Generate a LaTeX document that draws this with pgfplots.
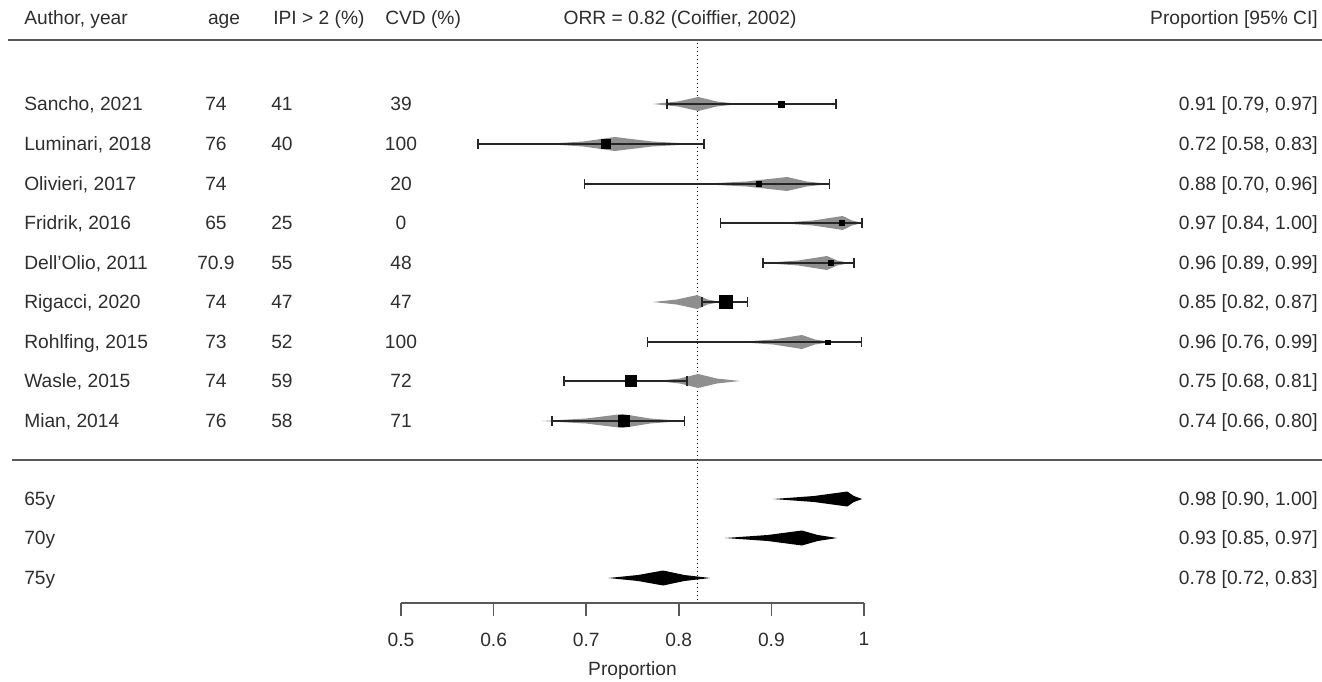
\documentclass[border=0pt]{standalone}
\usepackage{pgfplots}
\pgfplotsset{compat=1.18}
\usepackage{fontspec}
\setmainfont{Liberation Sans}

\definecolor{ink}{gray}{0.18}
\definecolor{shade}{gray}{0.56}
\definecolor{rule}{gray}{0.35}

% one picture pixel = 0.75pt; y values are 681 minus the pixel row
\newcommand{\tf}{\fontsize{14.4}{17}\selectfont}

\begin{document}
\begin{tikzpicture}[
  txt/.style={font=\tf, text=ink, inner sep=0pt, yshift=-5.1pt},
  ci/.style={black!85, line width=1.1pt, mark=none},
  sq/.style={only marks, mark=square*, mark options={draw=none, fill=black}},
]
\begin{axis}[
  scale only axis,
  width=347.25pt, height=452.25pt,
  xmin=0.5, xmax=1, ymin=78, ymax=681,
  axis x line=bottom, axis y line=none,
  x axis line style={-, rule, line width=1.1pt},
  clip=false,
  unbounded coords=jump,
  xtick={0.5,0.6,0.7,0.8,0.9,1},
  xticklabels={0.5,0.6,0.7,0.8,0.9,1},
  tick align=outside,
  major tick length=9.75pt,
  x tick style={rule, line width=1.1pt},
  xticklabel style={font=\tf, text=ink, yshift=-9pt},
  /pgf/number format/assume math mode=true,
]

% frame of the whole picture
\coordinate (BL) at (axis cs:0.06695,0);
\coordinate (TR) at (axis cs:1.4946,681);

% header and rules
\node[txt, anchor=base west] at (axis cs:0.0929,663) {Author, year};
\node[txt, anchor=base] at (axis cs:0.3089,663) {age};
\node[txt, anchor=base west] at (axis cs:0.3618,663) {IPI > 2 (\%)};
\node[txt, anchor=base west] at (axis cs:0.4827,663) {CVD (\%)};
\node[txt, anchor=base] at (axis cs:0.8013,663) {ORR = 0.82 (Coiffier, 2002)};
\node[txt, anchor=base east] at (axis cs:1.4903,663) {Proportion [95\% CI]};
\addplot[rule, line width=1.3pt] coordinates {(0.0756,641) (1.4946,641)};
\addplot[rule, line width=1.3pt] coordinates {(0.0799,221) (1.4946,221)};
\addplot[black, dotted, line width=1pt] coordinates {(0.82,638) (0.82,78)};

% study densities (grey)
\addplot[fill=shade, draw=none] coordinates {(0.772,577) (0.799,579.5) (0.821,584) (0.841,579.5) (0.866,577) (0.841,574.5) (0.821,570) (0.799,574.5)} -- cycle;
\addplot[fill=shade, draw=none] coordinates {(0.655,537) (0.697,539.5) (0.731,544) (0.771,539.5) (0.820,537) (0.771,534.5) (0.731,530) (0.697,534.5)} -- cycle;
\addplot[fill=shade, draw=none] coordinates {(0.820,497) (0.873,499.5) (0.917,504) (0.938,499.5) (0.963,497) (0.938,494.5) (0.917,490) (0.873,494.5)} -- cycle;
\addplot[fill=shade, draw=none] coordinates {(0.906,458) (0.945,460.5) (0.977,465) (0.987,460.5) (0.998,458) (0.987,455.5) (0.977,451) (0.945,455.5)} -- cycle;
\addplot[fill=shade, draw=none] coordinates {(0.891,418) (0.929,420.5) (0.960,425) (0.971,420.5) (0.985,418) (0.971,415.5) (0.960,411) (0.929,415.5)} -- cycle;
\addplot[fill=shade, draw=none] coordinates {(0.772,379) (0.798,381.5) (0.820,386) (0.831,381.5) (0.845,379) (0.831,376.5) (0.820,372) (0.798,376.5)} -- cycle;
\addplot[fill=shade, draw=none] coordinates {(0.863,339) (0.902,341.5) (0.933,346) (0.947,341.5) (0.965,339) (0.947,336.5) (0.933,332) (0.902,336.5)} -- cycle;
\addplot[fill=shade, draw=none] coordinates {(0.776,300) (0.801,302.5) (0.821,307) (0.841,302.5) (0.866,300) (0.841,297.5) (0.821,293) (0.801,297.5)} -- cycle;
\addplot[fill=shade, draw=none] coordinates {(0.652,260) (0.700,262.5) (0.739,267) (0.769,262.5) (0.805,260) (0.769,257.5) (0.739,253) (0.700,257.5)} -- cycle;

% confidence intervals
\addplot[ci] coordinates {(0.787,572) (0.787,582) (nan,nan) (0.787,577) (0.970,577) (nan,nan) (0.970,572) (0.970,582)};
\addplot[ci] coordinates {(0.583,532) (0.583,542) (nan,nan) (0.583,537) (0.827,537) (nan,nan) (0.827,532) (0.827,542)};
\addplot[ci] coordinates {(0.698,492) (0.698,502) (nan,nan) (0.698,497) (0.963,497) (nan,nan) (0.963,492) (0.963,502)};
\addplot[ci] coordinates {(0.845,453) (0.845,463) (nan,nan) (0.845,458) (0.998,458) (nan,nan) (0.998,453) (0.998,463)};
\addplot[ci] coordinates {(0.891,413) (0.891,423) (nan,nan) (0.891,418) (0.989,418) (nan,nan) (0.989,413) (0.989,423)};
\addplot[ci] coordinates {(0.825,374) (0.825,384) (nan,nan) (0.825,379) (0.874,379) (nan,nan) (0.874,374) (0.874,384)};
\addplot[ci] coordinates {(0.766,334) (0.766,344) (nan,nan) (0.766,339) (0.997,339) (nan,nan) (0.997,334) (0.997,344)};
\addplot[ci] coordinates {(0.676,295) (0.676,305) (nan,nan) (0.676,300) (0.809,300) (nan,nan) (0.809,295) (0.809,305)};
\addplot[ci] coordinates {(0.663,255) (0.663,265) (nan,nan) (0.663,260) (0.806,260) (nan,nan) (0.806,255) (0.806,265)};

% point estimates
\addplot[sq, mark size=2.25pt] coordinates {(0.911,577)};
\addplot[sq, mark size=3.3pt] coordinates {(0.721,537)};
\addplot[sq, mark size=2pt] coordinates {(0.886,497)};
\addplot[sq, mark size=1.8pt] coordinates {(0.976,458)};
\addplot[sq, mark size=2pt] coordinates {(0.964,418)};
\addplot[sq, mark size=5pt] coordinates {(0.851,379)};
\addplot[sq, mark size=1.6pt] coordinates {(0.961,339)};
\addplot[sq, mark size=4.3pt] coordinates {(0.748,300)};
\addplot[sq, mark size=4.1pt] coordinates {(0.741,260)};

% pooled predictions by age (black)
\addplot[fill=black, draw=none] coordinates {(0.902,182) (0.946,185) (0.982,189.5) (0.989,185) (0.998,182) (0.989,179) (0.982,174.5) (0.946,179)} -- cycle;
\addplot[fill=black, draw=none] coordinates {(0.850,143) (0.896,146) (0.933,150.5) (0.950,146) (0.971,143) (0.950,140) (0.933,135.5) (0.896,140)} -- cycle;
\addplot[fill=black, draw=none] coordinates {(0.724,103) (0.756,106) (0.783,110.5) (0.806,106) (0.834,103) (0.806,100) (0.783,95.5) (0.756,100)} -- cycle;

% table columns
\node[txt, anchor=base west] at (axis cs:0.0929,577) {Sancho, 2021};
\node[txt, anchor=base west] at (axis cs:0.0929,537) {Luminari, 2018};
\node[txt, anchor=base west] at (axis cs:0.0929,497) {Olivieri, 2017};
\node[txt, anchor=base west] at (axis cs:0.0929,458) {Fridrik, 2016};
\node[txt, anchor=base west] at (axis cs:0.0929,418) {Dell'Olio, 2011};
\node[txt, anchor=base west] at (axis cs:0.0929,379) {Rigacci, 2020};
\node[txt, anchor=base west] at (axis cs:0.0929,339) {Rohlfing, 2015};
\node[txt, anchor=base west] at (axis cs:0.0929,300) {Wasle, 2015};
\node[txt, anchor=base west] at (axis cs:0.0929,260) {Mian, 2014};
\node[txt, anchor=base west] at (axis cs:0.0929,182) {65y};
\node[txt, anchor=base west] at (axis cs:0.0929,143) {70y};
\node[txt, anchor=base west] at (axis cs:0.0929,103) {75y};

\node[txt, anchor=base] at (axis cs:0.3002,577) {74};
\node[txt, anchor=base] at (axis cs:0.3002,537) {76};
\node[txt, anchor=base] at (axis cs:0.3002,497) {74};
\node[txt, anchor=base] at (axis cs:0.3002,458) {65};
\node[txt, anchor=base] at (axis cs:0.3002,418) {70.9};
\node[txt, anchor=base] at (axis cs:0.3002,379) {74};
\node[txt, anchor=base] at (axis cs:0.3002,339) {73};
\node[txt, anchor=base] at (axis cs:0.3002,300) {74};
\node[txt, anchor=base] at (axis cs:0.3002,260) {76};

\node[txt, anchor=base west] at (axis cs:0.3596,577) {41};
\node[txt, anchor=base west] at (axis cs:0.3596,537) {40};
\node[txt, anchor=base west] at (axis cs:0.3596,458) {25};
\node[txt, anchor=base west] at (axis cs:0.3596,418) {55};
\node[txt, anchor=base west] at (axis cs:0.3596,379) {47};
\node[txt, anchor=base west] at (axis cs:0.3596,339) {52};
\node[txt, anchor=base west] at (axis cs:0.3596,300) {59};
\node[txt, anchor=base west] at (axis cs:0.3596,260) {58};

\node[txt, anchor=base] at (axis cs:0.5,577) {39};
\node[txt, anchor=base] at (axis cs:0.5,537) {100};
\node[txt, anchor=base] at (axis cs:0.5,497) {20};
\node[txt, anchor=base] at (axis cs:0.5,458) {0};
\node[txt, anchor=base] at (axis cs:0.5,418) {48};
\node[txt, anchor=base] at (axis cs:0.5,379) {47};
\node[txt, anchor=base] at (axis cs:0.5,339) {100};
\node[txt, anchor=base] at (axis cs:0.5,300) {72};
\node[txt, anchor=base] at (axis cs:0.5,260) {71};

\node[txt, anchor=base east] at (axis cs:1.4903,577) {0.91 [0.79, 0.97]};
\node[txt, anchor=base east] at (axis cs:1.4903,537) {0.72 [0.58, 0.83]};
\node[txt, anchor=base east] at (axis cs:1.4903,497) {0.88 [0.70, 0.96]};
\node[txt, anchor=base east] at (axis cs:1.4903,458) {0.97 [0.84, 1.00]};
\node[txt, anchor=base east] at (axis cs:1.4903,418) {0.96 [0.89, 0.99]};
\node[txt, anchor=base east] at (axis cs:1.4903,379) {0.85 [0.82, 0.87]};
\node[txt, anchor=base east] at (axis cs:1.4903,339) {0.96 [0.76, 0.99]};
\node[txt, anchor=base east] at (axis cs:1.4903,300) {0.75 [0.68, 0.81]};
\node[txt, anchor=base east] at (axis cs:1.4903,260) {0.74 [0.66, 0.80]};
\node[txt, anchor=base east] at (axis cs:1.4903,182) {0.98 [0.90, 1.00]};
\node[txt, anchor=base east] at (axis cs:1.4903,143) {0.93 [0.85, 0.97]};
\node[txt, anchor=base east] at (axis cs:1.4903,103) {0.78 [0.72, 0.83]};

% axis title
\node[font=\tf, text=ink, inner sep=0pt, anchor=base] at (axis cs:0.75,5.5) {Proportion};
\end{axis}
\pgfresetboundingbox
\useasboundingbox (BL) rectangle (TR);
\end{tikzpicture}
\end{document}
